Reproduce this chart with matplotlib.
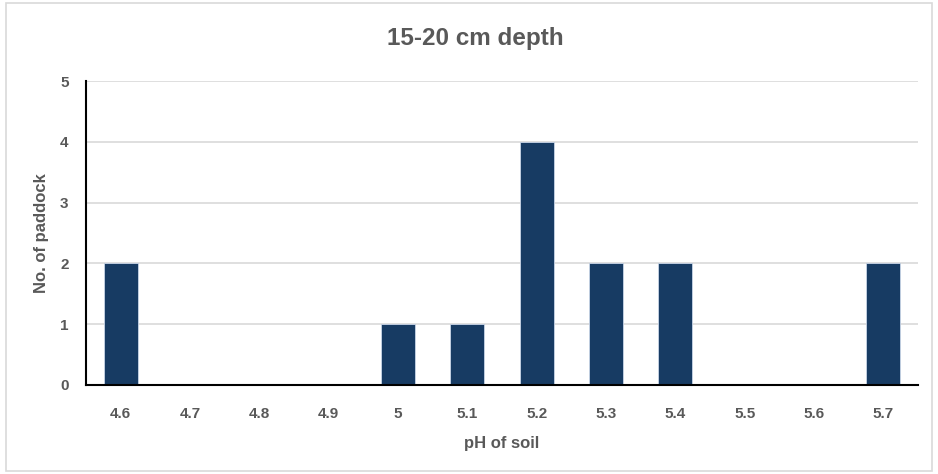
import matplotlib.pyplot as plt
from matplotlib.patches import Rectangle

ph_labels = ["4.6", "4.7", "4.8", "4.9", "5", "5.1", "5.2", "5.3", "5.4", "5.5", "5.6", "5.7"]
paddock_counts = [2, 0, 0, 0, 1, 1, 4, 2, 2, 0, 0, 2]

bar_color = "#173B63"
text_color = "#595959"

plt.rcParams["font.family"] = ["Liberation Sans", "DejaVu Sans"]

fig = plt.figure(figsize=(9.38, 4.74), dpi=100)
ax = fig.add_axes([0.0917, 0.188, 0.887, 0.641])

x = range(len(ph_labels))
ax.bar(x, paddock_counts, width=0.49, color=bar_color, edgecolor="#C9D6E8",
       linewidth=0.6, zorder=3)

ax.set_xlim(-0.5, len(ph_labels) - 0.5)
ax.set_ylim(0, 5)
ax.set_yticks(range(6))
ax.set_xticks(list(x))
ax.set_xticklabels(ph_labels)
ax.grid(axis="y", color="#D9D9D9", linewidth=1.2, zorder=0)
ax.tick_params(length=0, labelsize=11, labelcolor=text_color)
ax.tick_params(axis="x", pad=16)
ax.tick_params(axis="y", pad=12.5)
for lab in ax.get_xticklabels() + ax.get_yticklabels():
    lab.set_fontweight("bold")

for side in ["top", "right"]:
    ax.spines[side].set_visible(False)
for side in ["left", "bottom"]:
    ax.spines[side].set_color("black")
    ax.spines[side].set_linewidth(1.5)
    ax.spines[side].set_zorder(4)

ax.set_xlabel("pH of soil", fontsize=12, fontweight="bold", color=text_color, labelpad=11)
ax.set_ylabel("No. of paddock", fontsize=12, fontweight="bold", color=text_color)
ax.yaxis.set_label_coords(-0.0445, 0.5)
fig.text(0.507, 0.918, "15-20 cm depth", ha="center", va="center",
         fontsize=17.5, fontweight="bold", color=text_color)

fig.patches.append(Rectangle((0.006, 0.006), 0.988, 0.988, transform=fig.transFigure,
                             fill=False, edgecolor="#D9D9D9", linewidth=1.2))

fig.savefig("out.png", dpi=100)
plt.close()
